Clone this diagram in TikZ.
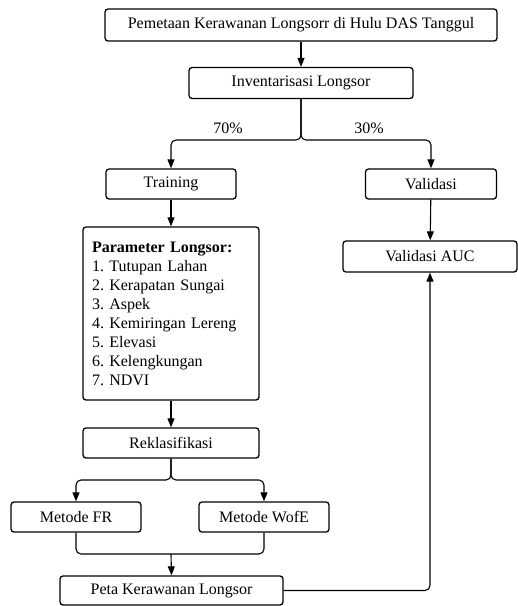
\documentclass[tikz,border=0pt]{standalone}
\usepackage{fontspec}
\setmainfont{Liberation Serif}
\usetikzlibrary{arrows.meta}
\frenchspacing
\tikzset{
  box/.style={draw,line width=1.3pt,rounded corners=3pt,font=\fontsize{16}{19}\selectfont,inner sep=0pt},
  link/.style={line width=1.1pt,rounded corners=5pt},
  arrow/.style={link,-{Triangle[length=9pt,width=7pt]}},
}
\begin{document}
\begin{tikzpicture}[x=1pt,y=-1pt]
  \useasboundingbox (0,0) rectangle (518,606);
  % boxes
  \node[box,minimum width=392pt,minimum height=32pt] (top) at (301,25) {Pemetaan Kerawanan Longsorr di Hulu DAS Tanggul};
  \node[box,minimum width=224pt,minimum height=31pt] (inv) at (301,83) {Inventarisasi Longsor};
  \node[box,minimum width=130pt,minimum height=30pt] (train) at (171,184) {Training};
  \node[box,minimum width=131pt,minimum height=30pt] (valid) at (431,184) {Validasi};
  \node[box,text width=158pt,inner xsep=9pt,minimum height=173pt,align=left] (param) at (171,313.5) {\textbf{Parameter Longsor:}\\ 1. Tutupan Lahan\\ 2. Kerapatan Sungai\\ 3. Aspek\\ 4. Kemiringan Lereng\\ 5. Elevasi\\ 6. Kelengkungan\\ 7. NDVI};
  \node[box,minimum width=174pt,minimum height=31pt] (auc) at (430,256.5) {Validasi AUC};
  \node[box,minimum width=176pt,minimum height=30pt] (reklas) at (171,443) {Reklasifikasi};
  \node[box,minimum width=130pt,minimum height=30pt] (fr) at (76,517) {Metode FR};
  \node[box,minimum width=130pt,minimum height=30pt] (wofe) at (264,517) {Metode WofE};
  \node[box,minimum width=223pt,minimum height=29pt] (peta) at (171.5,590.5) {Peta Kerawanan Longsor};
  % split and merge points
  \coordinate (s1) at (301,140);
  \coordinate (s2) at (171,480);
  \coordinate (m1) at (171,554);
  % labels
  \node[font=\fontsize{16}{19}\selectfont] (p70) at (228,128) {70\%};
  \node[font=\fontsize{16}{19}\selectfont] (p30) at (369,128) {30\%};
  % connectors
  \draw[arrow] (top) -- (inv);
  \draw[arrow] (inv.south) -- (s1) -| (train.north);
  \draw[arrow] (inv.south) -- (s1) -| (valid.north);
  \draw[arrow] (train) -- (param);
  \draw[arrow] (valid) -- (auc);
  \draw[arrow] (param) -- (reklas);
  \draw[arrow] (reklas.south) -- (s2) -| (fr.north);
  \draw[arrow] (reklas.south) -- (s2) -| (wofe.north);
  \draw[link] (fr.south) |- (m1);
  \draw[link] (wofe.south) |- (m1);
  \draw[arrow] (m1) -- (peta.north);
  \draw[arrow] (peta.east) -| (auc.south);
\end{tikzpicture}
\end{document}
